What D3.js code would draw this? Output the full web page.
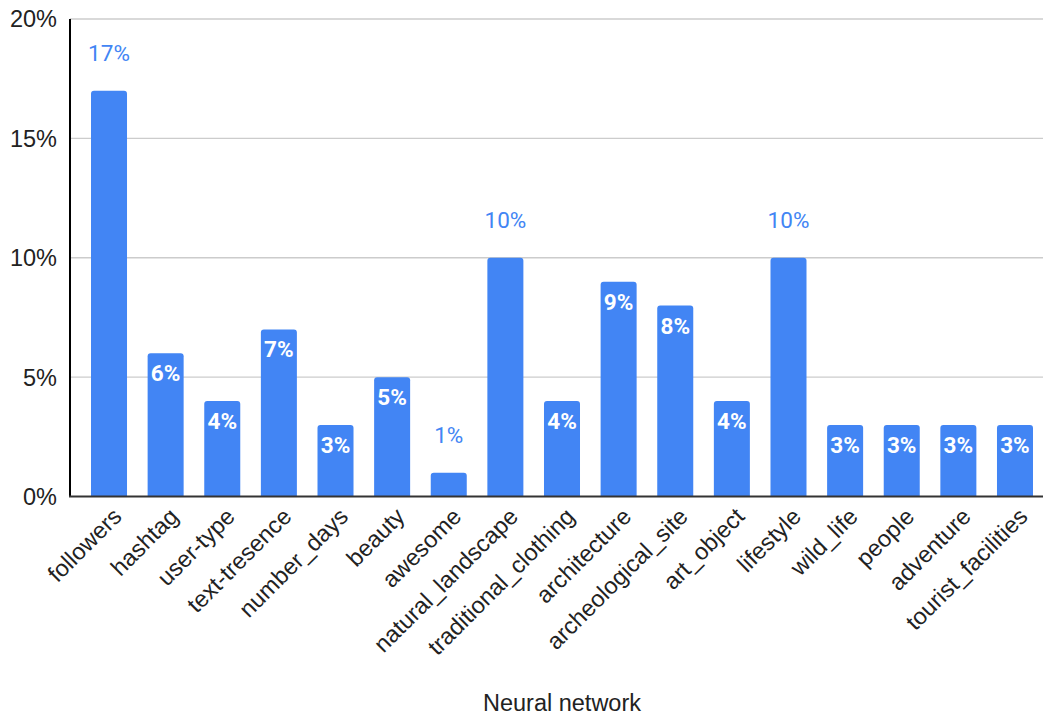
<!DOCTYPE html>
<html>
<head>
<meta charset="utf-8">
<script src="https://cdn.jsdelivr.net/npm/d3@7"></script>
<style>
  body { margin: 0; background: #fff; }
  text { font-family: "Liberation Sans", Arial, sans-serif; }
</style>
</head>
<body>
<script>
// data
const categories = ["followers", "hashtag", "user-type", "text-tresence", "number_days", "beauty",
  "awesome", "natural_landscape", "traditional_clothing", "architecture", "archeological_site",
  "art_object", "lifestyle", "wild_life", "people", "adventure", "tourist_facilities"];
const values = [17, 6, 4, 7, 3, 5, 1, 10, 4, 9, 8, 4, 10, 3, 3, 3, 3];
// labels drawn above the bar instead of inside it
const outsideLabels = ["followers", "natural_landscape", "lifestyle", "awesome"];
const yTicks = [0, 5, 10, 15, 20];
const xTitle = "Neural network";

const W = 1043, H = 717;
const blue = "#4285f4";

const svg = d3.select("body").append("svg")
  .attr("width", W)
  .attr("height", H);

const x = d3.scaleBand()
  .domain(categories)
  .range([80.7, 1043.3])
  .paddingInner(0.364)
  .paddingOuter(0.182);

const y = d3.scaleLinear()
  .domain([0, 20])
  .range([496.5, 19]);

// grid lines
svg.append("g")
  .selectAll("line")
  .data(yTicks.filter(d => d > 0))
  .enter()
  .append("line")
  .attr("x1", 70)
  .attr("x2", W)
  .attr("y1", d => y(d))
  .attr("y2", d => y(d))
  .style("stroke", "#cccccc")
  .style("stroke-width", 1.3);

// y tick labels
svg.append("g")
  .selectAll("text")
  .data(yTicks)
  .enter()
  .append("text")
  .attr("x", 57)
  .attr("y", d => y(d))
  .attr("dy", "0.36em")
  .style("text-anchor", "end")
  .style("font-size", "23.5px")
  .style("fill", "#222")
  .text(d => d + "%");

// bars with rounded top corners
const r = 3;
svg.append("g")
  .selectAll("path")
  .data(categories)
  .enter()
  .append("path")
  .style("fill", blue)
  .attr("d", (d, i) => {
    const x0 = x(d), w = x.bandwidth(), top = y(values[i]), base = y(0);
    return "M" + x0 + "," + base +
      " V" + (top + r) +
      " Q" + x0 + "," + top + " " + (x0 + r) + "," + top +
      " H" + (x0 + w - r) +
      " Q" + (x0 + w) + "," + top + " " + (x0 + w) + "," + (top + r) +
      " V" + base + " Z";
  });

// value labels
svg.append("g")
  .selectAll("text")
  .data(categories)
  .enter()
  .append("text")
  .attr("x", d => x(d) + x.bandwidth() / 2)
  .attr("y", (d, i) => outsideLabels.includes(d) ? y(values[i]) - 30 : y(values[i]) + 28)
  .style("text-anchor", "middle")
  .style("font-family", "Roboto, sans-serif")
  .style("font-size", "22.5px")
  .style("font-weight", d => outsideLabels.includes(d) ? "normal" : "bold")
  .style("fill", d => outsideLabels.includes(d) ? blue : "#fff")
  .text((d, i) => values[i] + "%");

// axes lines
svg.append("line")
  .attr("x1", 70).attr("x2", 70)
  .attr("y1", 19).attr("y2", 497)
  .style("stroke", "#000")
  .style("stroke-width", 2);
svg.append("line")
  .attr("x1", 69).attr("x2", W)
  .attr("y1", 496.5).attr("y2", 496.5)
  .style("stroke", "#333")
  .style("stroke-width", 2);

// x category labels, rotated
svg.append("g")
  .selectAll("text")
  .data(categories)
  .enter()
  .append("text")
  .attr("transform", d => "translate(" + (x(d) + x.bandwidth() / 2 + 14) + ",518) rotate(-45)")
  .style("text-anchor", "end")
  .style("font-size", "23.5px")
  .style("fill", "#222")
  .text(d => d);

// axis title
svg.append("text")
  .attr("x", 562)
  .attr("y", 711)
  .style("text-anchor", "middle")
  .style("font-size", "23.5px")
  .style("fill", "#222")
  .text(xTitle);
</script>
</body>
</html>
